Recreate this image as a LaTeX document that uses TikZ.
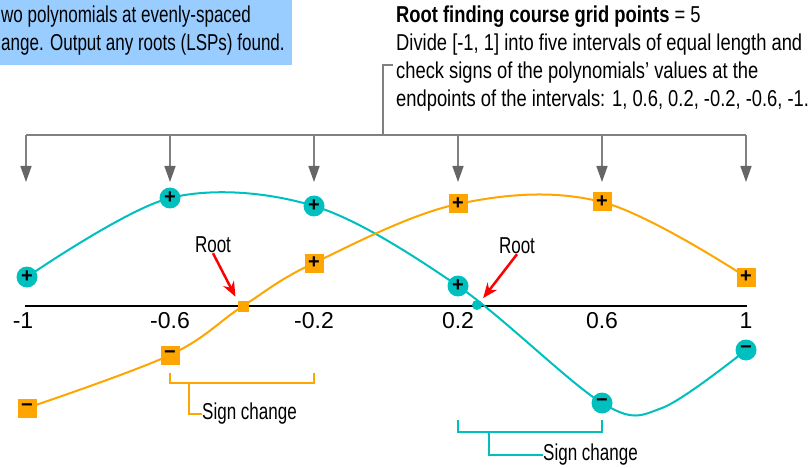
\documentclass[tikz,border=0pt]{standalone}
\usepackage{fontspec}
\setmainfont{Liberation Sans}
\newfontfamily\labelfont{Liberation Sans}[FakeStretch=0.74]
\newfontfamily\notefont{Liberation Sans}[FakeStretch=0.798]
\usetikzlibrary{arrows.meta,positioning,calc}
\definecolor{Teal}{HTML}{00BFBF}
\definecolor{Amber}{HTML}{FFA500}
\definecolor{Sky}{HTML}{99CCFF}
\definecolor{Grid}{HTML}{808080}
\definecolor{GridTip}{HTML}{666666}
\definecolor{RootRed}{HTML}{FF0000}

\tikzset{
  tmark/.style={circle, fill=Teal, minimum size=21pt, inner sep=0pt,
    font=\fontsize{20}{20}\bfseries\selectfont},
  omark/.style={rectangle, fill=Amber, minimum size=19pt, inner sep=0pt,
    font=\fontsize{20}{20}\bfseries\selectfont},
  lbl/.style={font=\labelfont\fontsize{23}{28}\selectfont, inner sep=0pt},
  note/.style={font=\notefont\fontsize{23}{28}\selectfont, inner sep=0pt},
  ticklbl/.style={font=\fontsize{23}{23}\selectfont, inner sep=0pt},
  gridline/.style={Grid, line width=1.5pt},
  rootarrow/.style={RootRed, line width=2.5pt, shorten >=4pt,
    -{Stealth[length=15pt,width=12pt]}}
}

\begin{document}
\begin{tikzpicture}[x=1pt, y=-1pt]
        \useasboundingbox (0,0) rectangle (812,468);
        % note box, top left
        \fill[Sky] (0,0) rectangle (292,65);
        \node[lbl, anchor=north west, align=left] (notetxt) at (1,6)
          {wo polynomials at evenly-spaced\\ange. Output any roots (LSPs) found.};
        % grid text, top right
        \node[note, anchor=north west, align=left] (gridtxt) at (396,6)
          {\textbf{Root finding course grid points} = 5\\
           Divide [-1, 1] into five intervals of equal length and\\
           check signs of the polynomials’ values at the\\
           endpoints of the intervals: 1, 0.6, 0.2, -0.2, -0.6, -1.};
        \coordinate (hook) at (393,65);
        \draw[gridline] (26,135) -- (746,135);
        \draw[gridline] (383,135) |- (hook);
        \foreach \x/\n in {26/a,170/b,314/c,458/d,602/e,746/f} {
          \coordinate (g\n) at (\x,182);
          \draw[gridline, -{Triangle[length=16pt,width=11pt,color=GridTip]}] (\x,135) -- (g\n);
        }
        % axis
        \draw[line width=1.5pt] (25,306) -- (747,306);
        \foreach \x/\t in {23/-1,170/-0.6,314/-0.2,458/0.2,602/0.6,746/1}
          \node[ticklbl, anchor=north] at (\x,312) {\t};
        % curves
        \draw[Teal, line width=2pt] plot[smooth, tension=0.55] coordinates
          {(27,277) (170,198) (314,206) (458,286) (602,403) (662,408) (746,350)};
        \draw[Amber, line width=2pt] plot[smooth, tension=0.6] coordinates
          {(27,408) (170,355) (243,306) (314,263) (458,204) (602,202) (746,277)};
        % markers
        \foreach \x/\y/\s/\n in {27/277/+/a,170/198/+/b,314/206/+/c,458/286/+/d,602/403/−/e,746/350/−/f}
          \node[tmark] (t\n) at (\x,\y) {\s};
        \foreach \x/\y/\s/\n in {27/408/−/a,170/355/−/b,314/263/+/c,458/204/+/d,602/202/+/e,746/277/+/f}
          \node[omark] (o\n) at (\x,\y) {\s};
        \node[omark, minimum size=11pt] (oroot) at (243,306) {};
        \node[tmark, minimum size=10pt] (troot) at (477,305) {};
        % roots
        \node[lbl] (rootl) at (213,245) {Root};
        \node[lbl] (rootr) at (517,246) {Root};
        \draw[rootarrow] (rootl.south) -- (oroot.north west);
        \draw[rootarrow] (rootr.south) -- (troot.north east);
        % sign changes
        \draw[Amber, line width=1.5pt] (170,373) |- (314,383) -- (314,373);
        \node[lbl, anchor=west] (signo) at (202,414) {Sign change};
        \draw[Amber, line width=1.5pt] (189,383) |- (signo.west);
        \draw[Teal, line width=1.5pt] (458,420) |- (602,432) -- (602,420);
        \node[lbl, anchor=west] (signt) at (543,455) {Sign change};
        \draw[Teal, line width=1.5pt] (489,432) |- (signt.west);
      \end{tikzpicture}
\end{document}
